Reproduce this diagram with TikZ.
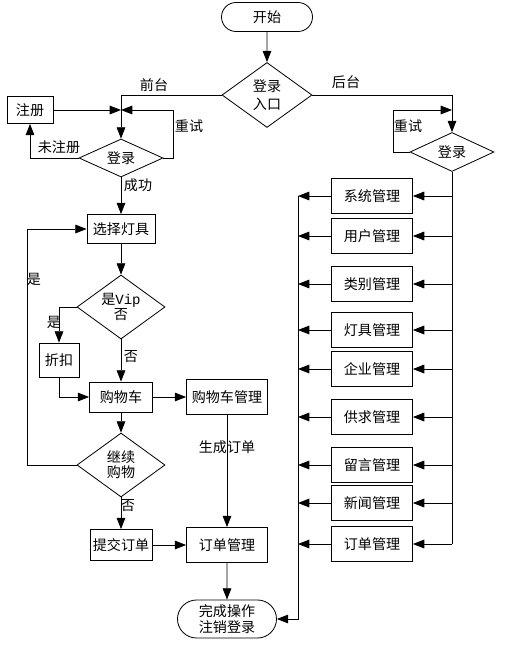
\documentclass[tikz,border=0pt]{standalone}
\usepackage{fontspec}
\setmainfont{Noto Sans CJK SC}
\newfontfamily\monofont{Liberation Mono}
\usepackage{tikz}
\usetikzlibrary{positioning, arrows.meta, shapes.geometric, shapes.misc}

\begin{document}
\begin{tikzpicture}[
    x=0.03cm, y=-0.03cm, line width=0.7pt,
    every node/.style={font=\fontsize{12}{13}\selectfont},
    box/.style={rectangle, draw, inner sep=0pt, minimum width=2.43cm, minimum height=1.05cm},
    decision/.style={diamond, draw, inner sep=-8pt, align=center},
    terminal/.style={rounded rectangle, draw, inner sep=0pt, align=center},
    tag/.style={inner sep=1pt},
    arrow/.style={-{Triangle[length=3.4mm, width=2.6mm]}}
]
\useasboundingbox (0,0) rectangle (509,645);

% front end
\node[terminal, minimum width=2.73cm, minimum height=0.87cm] (start) at (267,17) {开始};
\node[decision, minimum width=2.7cm, minimum height=1.95cm] (entry) at (267,95) {登录\\[3pt]入口};
\node[decision, minimum width=2.52cm, minimum height=1.14cm] (login1) at (121,158) {登录};
\node[box, minimum width=1.38cm, minimum height=0.81cm] (reg) at (30,110) {注册};
\node[box, minimum width=2.04cm, minimum height=0.87cm] (select) at (121,229) {选择灯具};
\node[decision, minimum width=2.64cm, minimum height=1.92cm] (vip) at (121,307) {是{\monofont Vip}\\否};
\node[box, minimum width=1.2cm, minimum height=1.02cm] (disc) at (59,360) {折扣};
\node[box, minimum width=1.89cm, minimum height=0.9cm] (cart) at (121,397) {购物车};
\node[box] (cartmgr) at (227,397) {购物车管理};
\node[decision, minimum width=2.64cm, minimum height=1.92cm] (cont) at (121,465) {继续\\购物};
\node[box, minimum width=1.86cm, minimum height=0.93cm] (submit) at (121,545) {提交订单};
\node[box] (ordermgr) at (227,545) {订单管理};
\node[terminal, minimum width=2.97cm, minimum height=1.14cm] (finish) at (227,619) {完成操作\\注销登录};

\coordinate (j1) at (121,110);
\coordinate (r1) at (173,110);
\coordinate (l1) at (27,465);

\draw[arrow] (start) -- (entry);
\draw[arrow] (entry.west) -| (login1.north);
\draw[arrow] (reg.east) -- (j1);
\draw[arrow] (login1.east) -| (r1) -- (j1);
\draw[arrow] (login1.west) -| (reg.south);
\draw[arrow] (login1) -- (select);
\draw[arrow] (select) -- (vip);
\draw[arrow] (vip.west) -| (disc.north);
\draw[arrow] (vip) -- (cart);
\draw[arrow] (disc.south) |- (cart.west);
\draw[arrow] (cart) -- (cartmgr);
\draw[arrow] (cart) -- (cont);
\draw[arrow] (cont.west) -- (l1) |- (select.west);
\draw[arrow] (cont) -- (submit);
\draw[arrow] (submit) -- (ordermgr);
\draw[arrow] (cartmgr) -- (ordermgr);
\draw[arrow] (ordermgr) -- (finish);

\node[tag] (tfront) at (154,85) {前台};
\node[tag] (tretry1) at (189,126) {重试};
\node[tag] (tnoreg) at (59,147) {未注册};
\node[tag] (tok) at (138,185) {成功};
\node[tag] (tyes1) at (34,279) {是};
\node[tag] (tyes2) at (54,322) {是};
\node[tag] (tno1) at (131,357) {否};
\node[tag] (tgen) at (227,447) {生成订单};
\node[tag] (tno2) at (128,506) {否};

% back end
\node[decision, minimum width=2.52cm, minimum height=1.17cm] (login2) at (452,152) {登录};
\node[box] (sys) at (372,196) {系统管理};
\node[box] (user) at (372,236) {用户管理};
\node[box] (cat) at (372,284) {类别管理};
\node[box] (lamp) at (372,330) {灯具管理};
\node[box] (firm) at (372,369) {企业管理};
\node[box] (supply) at (372,417) {供求管理};
\node[box] (msg) at (372,465) {留言管理};
\node[box] (news) at (372,503) {新闻管理};
\node[box] (order) at (372,544) {订单管理};

\coordinate (j2) at (452,110);
\coordinate (r2) at (393,110);
\coordinate (busr) at (452,544);
\coordinate (busl) at (298,196);

\draw[arrow] (entry.east) -| (login2.north);
\draw[arrow] (login2.west) -| (r2) -- (j2);
\draw (login2.south) -- (busr);
\draw[arrow] (busl) |- (finish.east);

\draw[arrow] (sys.east -| busr) -- (sys.east);
\draw[arrow] (user.east -| busr) -- (user.east);
\draw[arrow] (cat.east -| busr) -- (cat.east);
\draw[arrow] (lamp.east -| busr) -- (lamp.east);
\draw[arrow] (firm.east -| busr) -- (firm.east);
\draw[arrow] (supply.east -| busr) -- (supply.east);
\draw[arrow] (msg.east -| busr) -- (msg.east);
\draw[arrow] (news.east -| busr) -- (news.east);
\draw[arrow] (order.east -| busr) -- (order.east);

\draw[arrow] (sys.west) -- (sys.west -| busl);
\draw[arrow] (user.west) -- (user.west -| busl);
\draw[arrow] (cat.west) -- (cat.west -| busl);
\draw[arrow] (lamp.west) -- (lamp.west -| busl);
\draw[arrow] (firm.west) -- (firm.west -| busl);
\draw[arrow] (supply.west) -- (supply.west -| busl);
\draw[arrow] (msg.west) -- (msg.west -| busl);
\draw[arrow] (news.west) -- (news.west -| busl);
\draw[arrow] (order.west) -- (order.west -| busl);

\node[tag] (tback) at (346,82) {后台};
\node[tag] (tretry2) at (408,126) {重试};

\end{tikzpicture}
\end{document}
